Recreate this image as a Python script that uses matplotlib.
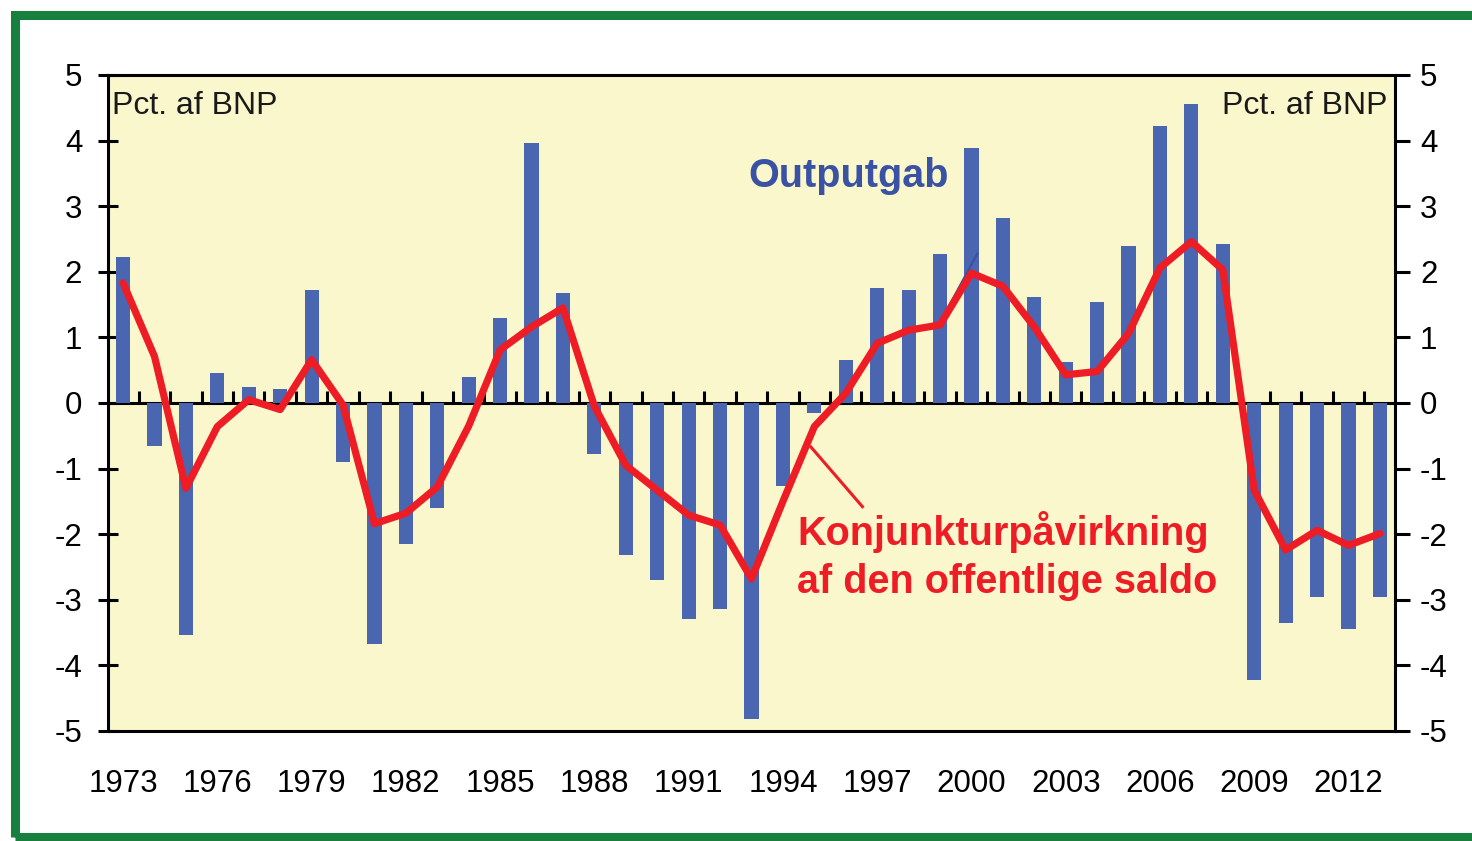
import matplotlib
matplotlib.use("Agg")
import matplotlib.pyplot as plt
from matplotlib.patches import Rectangle
import numpy as np

plt.rcParams['font.family'] = ['Liberation Sans', 'DejaVu Sans']

years = list(range(1973, 2014))
outputgab = [2.23, -0.65, -3.53, 0.46, 0.25, 0.22, 1.72, -0.90, -3.68, -2.15,
             -1.60, 0.40, 1.29, 3.97, 1.68, -0.77, -2.31, -2.70, -3.29, -3.14,
             -4.82, -1.27, -0.16, 0.65, 1.75, 1.72, 2.27, 3.89, 2.82, 1.62,
             0.62, 1.54, 2.39, 4.22, 4.56, 2.42, -4.23, -3.35, -2.96, -3.44,
             -2.96]
konjunktur = [1.83, 0.71, -1.30, -0.36, 0.05, -0.10, 0.66, -0.03, -1.84, -1.68,
              -1.28, -0.35, 0.81, 1.16, 1.45, -0.05, -0.95, -1.33, -1.71, -1.86,
              -2.68, -1.50, -0.36, 0.15, 0.91, 1.11, 1.19, 1.98, 1.78, 1.16,
              0.43, 0.48, 1.06, 2.06, 2.46, 2.03, -1.33, -2.24, -1.94, -2.17,
              -1.99]
xtick_years = list(range(1973, 2013, 3))
yticks = list(range(-5, 6))

bar_color = '#4a66b0'
line_color = '#ee1c25'
bg_color = '#f9f7cb'
text_blue = '#3a52a3'

W, H = 1472, 841
fig = plt.figure(figsize=(W / 100, H / 100), dpi=100)
fig.patch.set_facecolor('white')

ax = fig.add_axes([108 / W, 1 - 731 / H, (1395 - 108) / W, (731 - 75) / H])
ax.set_facecolor(bg_color)

ax.bar(years, outputgab, width=0.45, color=bar_color, zorder=2)
ax.plot(years, konjunktur, color=line_color, lw=5.2, solid_joinstyle='round',
        solid_capstyle='round', zorder=4)

ax.set_xlim(1972.52, 2013.48)
ax.set_ylim(-5, 5)

for s in ax.spines.values():
    s.set_linewidth(2.2)
    s.set_color('black')

ax.set_xticks(xtick_years)
ax.set_xticklabels([str(y) for y in xtick_years])
ax.tick_params(axis='x', length=0, pad=27, labelsize=22.5)

ax.set_yticks(yticks)
ax.set_yticklabels([str(v) for v in yticks])
ax.tick_params(axis='y', which='both', direction='inout', length=15, width=2.2,
               labelsize=22.5, pad=11, left=True, right=False,
               labelleft=True, labelright=False)

# right axis labels
axr = ax.twinx()
axr.set_ylim(-5, 5)
axr.set_yticks(yticks)
axr.set_yticklabels([str(v) for v in yticks])
axr.tick_params(axis='y', direction='out', length=11, width=2.2, labelsize=22.5, pad=7)
for s in axr.spines.values():
    s.set_visible(False)

# zero line axis with small upward ticks between the years
sec = ax.secondary_xaxis(0.5)
sec.set_xticks(np.arange(1973.5, 2013.0, 1.0))
sec.xaxis.set_ticklabels([])
sec.tick_params(direction='out', length=9, width=2.2,
                labelbottom=False, labeltop=False)
for s in sec.spines.values():
    s.set_linewidth(2.2)

ax.text(0.003, 0.975, 'Pct. af BNP', transform=ax.transAxes, ha='left', va='top',
        fontsize=23, color='#1a1a1a', zorder=6)
ax.text(0.9945, 0.975, 'Pct. af BNP', transform=ax.transAxes, ha='right', va='top',
        fontsize=23, color='#1a1a1a', zorder=6)

ax.text(1996.08, 3.30, 'Outputgab', ha='center', va='baseline', fontsize=28.5,
        fontweight='bold', color=text_blue, zorder=6)
ax.plot([1999.24, 2000.19], [1.44, 2.28], color=text_blue, lw=1.6, zorder=3)

ax.text(1994.46, -2.16, 'Konjunkturpåvirkning', ha='left', va='baseline',
        fontsize=28.5, fontweight='bold', color=line_color, zorder=6)
ax.text(1994.46, -2.90, 'af den offentlige saldo', ha='left', va='baseline',
        fontsize=28.5, fontweight='bold', color=line_color, zorder=6)
ax.plot([1996.53, 1994.89], [-1.58, -0.67], color=line_color, lw=2.2, zorder=3)

# green frame
frame = Rectangle((15 / W, 4 / H), (1490 - 15) / W, (837 - 15) / H,
                  transform=fig.transFigure, fill=False, edgecolor='#17803f',
                  linewidth=6.5, clip_on=False)
fig.patches.append(frame)

fig.savefig('out.png', dpi=100, facecolor='white')
